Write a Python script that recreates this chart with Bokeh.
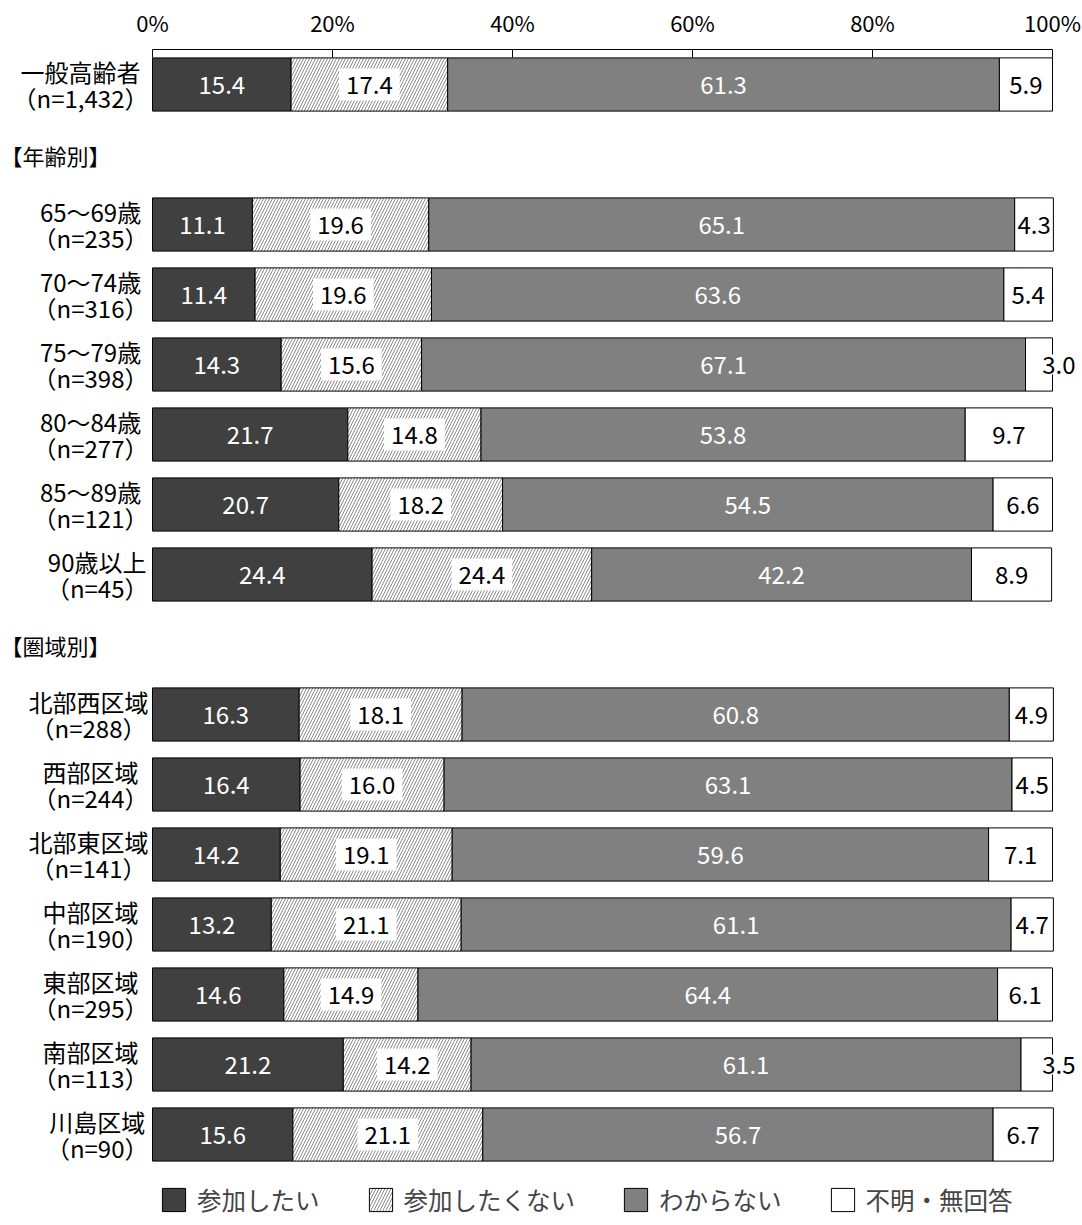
from bokeh.plotting import figure
from bokeh.models import ColumnDataSource, Range1d, FixedTicker, Legend, LegendItem, CustomJSTickFormatter
from bokeh.core.properties import value
from bokeh.embed import file_html
from bokeh.resources import INLINE

FONT = "Noto Sans CJK JP"

# ---- data ----
categories = [
    "一般高齢者\n（n=1,432）",
    "65～69歳\n（n=235）", "70～74歳\n（n=316）", "75～79歳\n（n=398）",
    "80～84歳\n（n=277）", "85～89歳\n（n=121）", "90歳以上\n（n=45）",
    "北部西区域\n（n=288）", "西部区域\n（n=244）", "北部東区域\n（n=141）",
    "中部区域\n（n=190）", "東部区域\n（n=295）", "南部区域\n（n=113）",
    "川島区域\n（n=90）",
]
groups = [0, 1, 1, 1, 1, 1, 1, 2, 2, 2, 2, 2, 2, 2]
group_titles = {1: "【年齢別】", 2: "【圏域別】"}

series_names = ["参加したい", "参加したくない", "わからない", "不明・無回答"]
want = [15.4, 11.1, 11.4, 14.3, 21.7, 20.7, 24.4, 16.3, 16.4, 14.2, 13.2, 14.6, 21.2, 15.6]
not_want = [17.4, 19.6, 19.6, 15.6, 14.8, 18.2, 24.4, 18.1, 16.0, 19.1, 21.1, 14.9, 14.2, 21.1]
unknown = [61.3, 65.1, 63.6, 67.1, 53.8, 54.5, 42.2, 60.8, 63.1, 59.6, 61.1, 64.4, 61.1, 56.7]
no_answer = [5.9, 4.3, 5.4, 3.0, 9.7, 6.6, 8.9, 4.9, 4.5, 7.1, 4.7, 6.1, 3.5, 6.7]
tick_values = [0, 20, 40, 60, 80, 100]

# ---- layout of rows (a header row before each new group) ----
ys = []
header_y = {}
pos = 0
prev = None
for g in groups:
    if prev is not None and g != prev:
        header_y[g] = pos + 0.5
        pos += 1
    ys.append(pos + 0.5)
    pos += 1
    prev = g

p = figure(width=1082, height=1225,
           x_range=Range1d(-16.889, 103.333), y_range=Range1d(16.8, 0),
           x_axis_location="above", y_axis_type=None,
           output_backend="svg", toolbar_location=None,
           min_border_left=0, min_border_right=0, min_border_top=49, min_border_bottom=0)
p.outline_line_color = None
p.xgrid.visible = False
p.ygrid.visible = False
p.background_fill_color = "white"

ax = p.xaxis[0]
ax.ticker = FixedTicker(ticks=tick_values)
ax.bounds = (0, 100)
ax.formatter = CustomJSTickFormatter(code="return tick.toFixed(0) + '%';")
ax.major_tick_in = 8
ax.major_tick_out = 0
ax.minor_tick_line_color = None
ax.major_label_standoff = 12
ax.major_label_text_font = FONT
ax.major_label_text_font_size = "22px"
ax.major_label_text_color = "black"
ax.axis_line_color = "black"
ax.major_tick_line_color = "black"

series = [want, not_want, unknown, no_answer]
fills = ["#404040", "white", "#808080", "white"]
hatches = [None, "right_diagonal_line", None, None]
text_colors = ["white", "black", "white", "black"]

lefts = [0.0] * len(categories)
renderers = []
for k, vals in enumerate(series):
    rights = [l + v for l, v in zip(lefts, vals)]
    centers = [(l + r) / 2 for l, r in zip(lefts, rights)]
    labs = [f"{v:.1f}" for v in vals]
    src = ColumnDataSource(dict(y=ys, left=lefts, right=rights))
    kw = dict(y="y", left="left", right="right", height=0.76, source=src,
              fill_color=fills[k], line_color="black", line_width=1)
    if hatches[k]:
        kw.update(hatch_pattern=hatches[k], hatch_color="#8a8a8a", hatch_scale=6, hatch_weight=1)
    r = p.hbar(**kw)
    renderers.append(r)
    tkw = dict(text_align="center", text_baseline="middle", text_font=value(FONT),
               text_font_size="24px", text_color=text_colors[k])
    if k == 1:
        tkw.update(background_fill_color="white", padding=7)
    if k == 3:
        inside = [i for i, v in enumerate(vals) if v >= 4]
        outside = [i for i, v in enumerate(vals) if v < 4]
        p.text(x=[centers[i] for i in inside], y=[ys[i] for i in inside],
               text=[labs[i] for i in inside], **tkw)
        p.text(x=[100.7] * len(outside), y=[ys[i] for i in outside],
               text=[labs[i] for i in outside], background_fill_color="white", padding=1, **tkw)
    else:
        p.text(x=centers, y=ys, text=labs, **tkw)
    lefts = rights

# category labels
p.text(x=[0] * len(categories), y=ys, text=categories, x_offset=-4,
       text_align="center", anchor="center_right", text_baseline="middle",
       text_font=value(FONT), text_font_size="24px", text_line_height=0.76, text_color="black")

# group headers
hy = [header_y[g] for g in sorted(header_y)]
ht = [group_titles[g] for g in sorted(header_y)]
p.text(x=[-16.889] * len(hy), y=hy, text=ht, x_offset=0, text_align="left",
       text_baseline="middle", text_font=value(FONT), text_font_size="22px", text_color="black")

legend = Legend(items=[LegendItem(label=n, renderers=[r]) for n, r in zip(series_names, renderers)],
                orientation="horizontal", location=(159, 8),
                glyph_width=29, glyph_height=29, label_standoff=9, spacing=46,
                padding=0, margin=0, border_line_color=None, background_fill_alpha=0,
                label_text_font=FONT, label_text_font_size="24.5px")
p.add_layout(legend)

open("out.html", "w").write(file_html(p, INLINE))
